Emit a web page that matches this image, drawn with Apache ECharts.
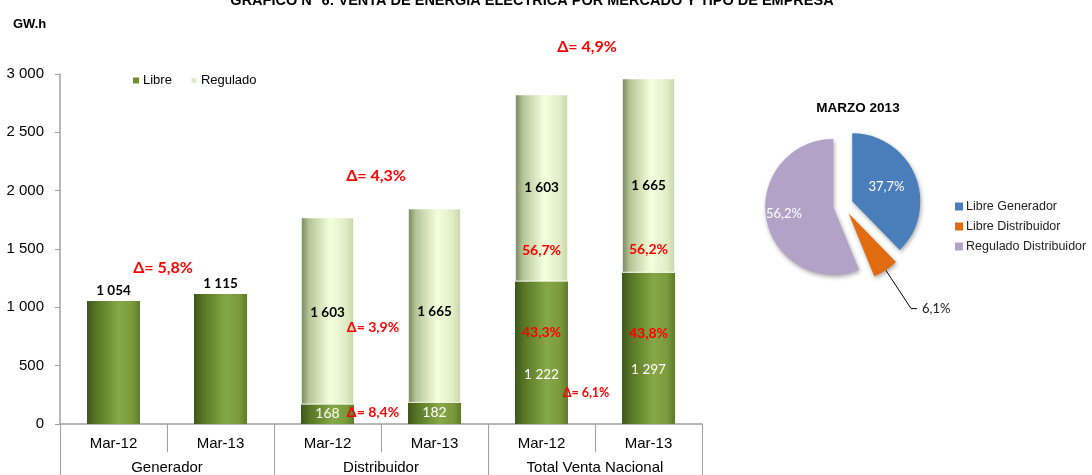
<!DOCTYPE html>
<html>
<head>
<meta charset="utf-8">
<script src="https://cdn.jsdelivr.net/npm/echarts@6/dist/echarts.min.js"></script>
<style>
html,body{margin:0;padding:0;background:#fff;}
#c{width:1092px;height:475px;}
</style>
</head>
<body>
<div id="c"></div>
<script>
// ---- data ----
var periods = ['Mar-12','Mar-13','Mar-12','Mar-13','Mar-12','Mar-13'];
var groups = ['Generador','Distribuidor','Total Venta Nacional'];
var libre = [1054, 1115, 168, 182, 1222, 1297];
var regulado = ['-', '-', 1603, 1665, 1603, 1665];
var totals = ['-', '-', 1771, 1847, 2825, 2962];
var pctLibre = [null, null, null, null, 43.3, 43.8];
var pctRegulado = [null, null, null, null, 56.7, 56.2];
var yTicks = [0, 500, 1000, 1500, 2000, 2500, 3000];
// delta annotations: text, between categories a and b, at value v
var deltaText = ['Δ= 5,8%', 'Δ= 4,3%', 'Δ= 4,9%', 'Δ= 3,9%', 'Δ= 8,4%', 'Δ= 6,1%'];
var deltaCats = [[0,1],[2,3],[4,5],[2,3],[2,3],[4,5]];
var deltaVals = [1338, 2131, 3230, 827, 102, 264];
var deltaSize = [16, 16, 16, 14, 14, 12.5];
var deltaDx = [-4, -5, -8, -8, -8, -9];
var pieNames = ['Libre Generador','Libre Distribuidor','Regulado Distribuidor'];
var pieValues = [37.7, 6.1, 56.2];

function fmt(n){ return String(n).replace(/\B(?=(\d{3})+(?!\d))/g, ' '); }
function pct(n){ return n.toFixed(1).replace('.', ',') + '%'; }

var LF = 'Lato, "Open Sans", sans-serif';
var AF = '"Liberation Sans", Arial, sans-serif';

var darkGrad = {type:'linear',x:0,y:0,x2:1,y2:0,colorStops:[
  {offset:0,color:'#3e571b'},{offset:0.18,color:'#587726'},{offset:0.6,color:'#87a846'},
  {offset:0.85,color:'#7a9a3b'},{offset:1,color:'#5e7c2b'}]};
var lightGrad = {type:'linear',x:0,y:0,x2:1,y2:0,colorStops:[
  {offset:0,color:'#77845f'},{offset:0.15,color:'#b5c596'},{offset:0.55,color:'#f4ffdd'},
  {offset:0.85,color:'#e0ecc4'},{offset:1,color:'#c7d5a8'}]};

// per-item labels for Libre
var libreData = libre.map(function(v, i){
  var item = {value: v};
  if (i < 2) {
    item.label = {show:true, position:'top', distance:3, color:'#000', fontFamily:LF, fontWeight:'bold', fontSize:13.5, formatter: fmt(v)};
  } else if (i < 4) {
    item.label = {show:true, position:'inside', color:'#fff', fontFamily:LF, fontSize:14, offset:[0,-1], formatter: fmt(v)};
  } else {
    var lh = i === 4 ? 42 : 36;
    item.label = {show:true, position:'inside', offset:[0, i === 4 ? 1 : 3],
      formatter: '{p|' + pct(pctLibre[i]) + '}\n{v|' + fmt(v) + '}',
      rich: {
        p:{color:'#ff0000', fontFamily:LF, fontWeight:'bold', fontSize:14, lineHeight:lh},
        v:{color:'#fff', fontFamily:LF, fontSize:13.5, lineHeight:lh}
      }};
  }
  return item;
});
var regData = regulado.map(function(v, i){
  if (v === '-') return '-';
  var item = {value: v};
  if (i < 4) {
    item.label = {show:true, position:'inside', color:'#000', fontFamily:LF, fontWeight:'bold', fontSize:13.5, offset:[0, i === 2 ? 2 : 6], formatter: fmt(v)};
  } else {
    var lh = i === 4 ? 63 : 64;
    item.label = {show:true, position:'inside', offset:[0, i === 4 ? 31 : 42],
      formatter: '{v|' + fmt(v) + '}\n{p|' + pct(pctRegulado[i]) + '}',
      rich: {
        p:{color:'#ff0000', fontFamily:LF, fontWeight:'bold', fontSize:14, lineHeight:lh},
        v:{color:'#000', fontFamily:LF, fontWeight:'bold', fontSize:13.5, lineHeight:lh}
      }};
  }
  return item;
});

var chart = echarts.init(document.getElementById('c'));
var option = {
  backgroundColor:'#fff',
  animation:false,
  title:[
    {text:'GRAFICO N° 6: VENTA DE ENERGIA ELECTRICA POR MERCADO Y TIPO DE EMPRESA', left:527, textAlign:'center', top:-12,
     textStyle:{fontFamily:AF, fontWeight:'bold', fontSize:14.5, color:'#000'}},
    {text:'GW.h', left:8, top:13, textStyle:{fontFamily:AF, fontWeight:'bold', fontSize:13, color:'#000'}},
    {text:'MARZO 2013', left:853, textAlign:'center', top:96, textStyle:{fontFamily:AF, fontWeight:'bold', fontSize:13.5, color:'#000'}}
  ],
  legend:[
    {data:[{name:'Libre', itemStyle:{color:'#6f8f35'}}, {name:'Regulado', itemStyle:{color:'#dbe8c2'}}],
     left:128, top:69, itemWidth:6, itemHeight:6, itemGap:18, icon:'rect',
     textStyle:{fontFamily:AF, fontSize:13, color:'#000', padding:[0,0,0,-1]}},
    {data:pieNames, left:950, top:195, orient:'vertical', itemWidth:8, itemHeight:8, itemGap:7, icon:'rect',
     textStyle:{fontFamily:AF, fontSize:12.5, color:'#222', padding:[0,0,0,-2]}}
  ],
  grid:{left:60, right:390, top:74, bottom:51},
  xAxis:[
    {type:'category', data:periods, position:'bottom',
     axisLine:{show:true, lineStyle:{color:'#a0a0a0', width:1.5}},
     axisTick:{show:true, length:28, interval:0, lineStyle:{color:'#a0a0a0'}},
     axisLabel:{interval:0, margin:12, fontFamily:AF, fontSize:15, color:'#000'}},
    {type:'category', data:groups, position:'bottom', gridIndex:0,
     axisLine:{show:false},
     axisTick:{show:true, length:52, interval:0, lineStyle:{color:'#a0a0a0'}},
     axisLabel:{interval:0, margin:36, fontFamily:AF, fontSize:15, color:'#000'}}
  ],
  yAxis:{type:'value', min:0, max:3000, interval:500,
    axisLine:{show:true, lineStyle:{color:'#a0a0a0', width:1.5}},
    axisTick:{show:true, length:5, lineStyle:{color:'#a0a0a0'}},
    splitLine:{show:false},
    axisLabel:{margin:16, fontFamily:AF, fontSize:15, color:'#000', formatter:function(v){return fmt(v);}}},
  series:[
    {name:'Libre', type:'bar', stack:'a', barWidth:53, data:libreData,
     itemStyle:{color:darkGrad}, emphasis:{disabled:true}},
    {name:'Regulado', type:'bar', stack:'a', barWidth:53, data:regData,
     itemStyle:{color:lightGrad, borderColor:'rgba(255,255,255,0.6)', borderWidth:1}, emphasis:{disabled:true}},
    {name:'Total', type:'scatter', data:totals, symbolSize:1, itemStyle:{opacity:0}, silent:true,
     label:{show:true, position:'top', distance:4, color:'#ff0000', fontFamily:LF, fontWeight:'bold', fontSize:14,
       formatter:function(p){return fmt(p.value);}}},
    {name:'Marzo', type:'pie', center:[843,205], radius:68, startAngle:90, clockwise:true,
     selectedMode:'multiple', selectedOffset:10, silent:true,
     itemStyle:{shadowBlur:4, shadowColor:'rgba(0,0,0,0.35)', shadowOffsetX:1, shadowOffsetY:2},
     data:[
       {name:pieNames[0], value:pieValues[0], selected:true, itemStyle:{color:'#4a7ebb'},
        label:{position:'inside', color:'#fff', fontFamily:LF, fontSize:13, formatter:pct(pieValues[0])}},
       {name:pieNames[1], value:pieValues[1], selected:true, itemStyle:{color:'#e06b10'},
        label:{position:'outside', color:'#222', fontFamily:LF, fontSize:13, formatter:pct(pieValues[1])},
        labelLine:{show:true, length:46, length2:6, lineStyle:{color:'#000', width:1}}},
       {name:pieNames[2], value:pieValues[2], selected:true, itemStyle:{color:'#b3a2c8'},
        label:{position:'inside', color:'#fff', fontFamily:LF, fontSize:13, padding:[0,26,0,0], formatter:pct(pieValues[2])}}
     ]}
  ]
};
chart.setOption(option);

// delta annotations placed with the chart's scales
var gfx = deltaText.map(function(t, k){
  var a = chart.convertToPixel({xAxisIndex:0, yAxisIndex:0}, [deltaCats[k][0], deltaVals[k]]);
  var b = chart.convertToPixel({xAxisIndex:0, yAxisIndex:0}, [deltaCats[k][1], deltaVals[k]]);
  return {type:'text', z:100, zlevel:1, x:(a[0]+b[0])/2 + deltaDx[k], y:a[1],
    style:{text:t, fill:'#ff0000', font:'bold ' + deltaSize[k] + 'px ' + LF, textAlign:'center', textVerticalAlign:'middle'}};
});
chart.setOption({graphic:gfx});
</script>
</body>
</html>
